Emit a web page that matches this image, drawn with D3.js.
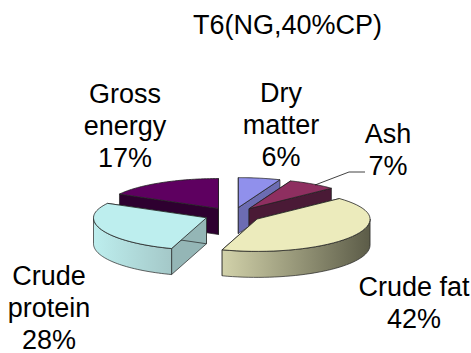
<!DOCTYPE html>
<html>
<head>
<meta charset="utf-8">
<script src="https://cdn.jsdelivr.net/npm/d3@7"></script>
<style>
	html, body { margin: 0; background: #fff; }
	svg { display: block; }
	text { font-family: "Liberation Sans", Arial, sans-serif; fill: #000; }
</style>
</head>
<body>
<svg id="chart" width="471" height="353"></svg>
<script>
const chart_title = 'T6(NG,40%CP)';
const categories = ['Dry matter', 'Ash', 'Crude fat', 'Crude protein', 'Gross energy'];
const percents = [6, 7, 42, 28, 17];
const top_colors = ['#9090ec', '#8e2f60', '#ecebbc', '#bdeeee', '#5e0060'];
const side_colors = ['#6c6cb2', '#4a1a36', '#8f8f72', '#94b6b6', '#2e0030'];
const band_from = ['#6c6cb2', '#4a1a36', '#d2d2aa', '#bdeeee', '#2e0030'];
const band_to = ['#6c6cb2', '#4a1a36', '#5c5c48', '#a4c8c8', '#2e0030'];
const label_lines = [['Dry', 'matter', '6%'], ['Ash', '7%'], ['Crude fat', '42%'], ['Crude', 'protein', '28%'], ['Gross', 'energy', '17%']];
const label_x = [281, 388, 414, 49, 125];
const label_y = [102, 143, 296, 285, 103];
const draw_order = [4, 0, 1, 3, 2];

const cx = 233, cy = 215, rx = 113, tilt = 0.265, depth = 26, explode = 28.5;
const front_bulge = 1.08;
const font_size = 27, line_height = 32;

let svg = d3.select('#chart');
let defs = svg.append('defs');

let slices = d3.pie().sort(null).value(d => d)(percents);
let line = d3.line();

// screen position of a point on the tilted disc, angle clockwise from 12 o'clock
function disc_point(angle, r, ox, oy, drop) {
	let c = Math.cos(angle);
	return [ox + r * Math.sin(angle), oy - r * tilt * c * (c < 0 ? front_bulge : 1) + drop];
}

function arc_points(a0, a1, ox, oy, drop) {
	return d3.range(0, 41).map(i => disc_point(a0 + (a1 - a0) * i / 40, rx, ox, oy, drop));
}

draw_order.forEach(i => {
	let s = slices[i],
		mid = (s.startAngle + s.endAngle) / 2,
		ox = cx + explode * Math.sin(mid),
		oy = cy - explode * tilt * Math.cos(mid),
		g = svg.append('g').attr('class', 'slice');

	let grad = defs.append('linearGradient')
		.attr('id', `band-${i}`);
	grad.append('stop').attr('offset', '0%').attr('stop-color', band_from[i]);
	grad.append('stop').attr('offset', '100%').attr('stop-color', band_to[i]);

	// the two radial cuts
	[s.startAngle, s.endAngle].forEach(a => {
		let p = disc_point(a, rx, ox, oy, 0),
			q = disc_point(a, rx, ox, oy, depth);
		g.append('path')
			.attr('d', line([[ox, oy], p, q, [ox, oy + depth]]) + 'Z')
			.attr('fill', side_colors[i])
			.attr('stroke', '#222')
			.attr('stroke-width', 0.7);
	});

	// outer wall, only the part that faces the viewer
	let a0 = Math.max(s.startAngle, Math.PI / 2),
		a1 = Math.min(s.endAngle, Math.PI * 1.5);
	if (a1 > a0) {
		let upper = arc_points(a0, a1, ox, oy, 0),
			lower = arc_points(a1, a0, ox, oy, depth);
		g.append('path')
			.attr('d', line(upper.concat(lower)) + 'Z')
			.attr('fill', `url(#band-${i})`)
			.attr('stroke', '#222')
			.attr('stroke-width', 0.7);
	}

	// top face
	g.append('path')
		.attr('d', line([[ox, oy]].concat(arc_points(s.startAngle, s.endAngle, ox, oy, 0))) + 'Z')
		.attr('fill', top_colors[i])
		.attr('stroke', '#222')
		.attr('stroke-width', 0.8)
		.attr('stroke-linejoin', 'round');
});

// leader line for Ash
svg.append('path')
	.attr('d', line([[315, 185], [349, 172], [365, 172]]))
	.attr('fill', 'none')
	.attr('stroke', '#111')
	.attr('stroke-width', 0.8);

svg.append('text')
	.attr('x', 287.5)
	.attr('y', 34)
	.attr('text-anchor', 'middle')
	.attr('font-size', font_size)
	.text(chart_title);

categories.forEach((c, i) => {
	let t = svg.append('text')
		.attr('text-anchor', 'middle')
		.attr('font-size', font_size);
	label_lines[i].forEach((l, k) => {
		t.append('tspan')
			.attr('x', label_x[i])
			.attr('y', label_y[i] + k * line_height)
			.text(l);
	});
});
</script>
</body>
</html>
